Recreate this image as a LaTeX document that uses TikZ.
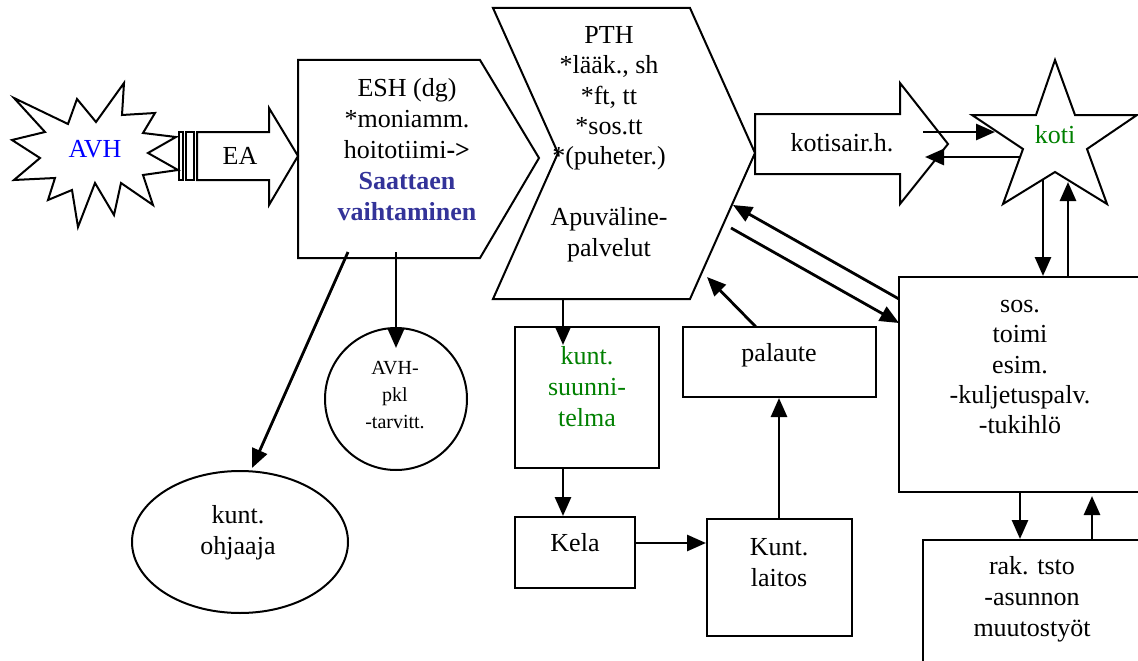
\documentclass[tikz,border=0pt]{standalone}
\usepackage{fontspec}
\setmainfont{Liberation Serif}
\usetikzlibrary{arrows.meta,positioning,shapes.geometric}
\definecolor{avhblue}{RGB}{0,0,255}
\definecolor{kotigreen}{RGB}{0,128,0}
\definecolor{saatblue}{RGB}{51,51,153}
\tikzset{
	shp/.style={draw, line width=2pt, line join=miter},
	box/.style={shp, inner sep=0pt},
	lbl/.style={align=center, inner sep=0pt, font=\fontsize{26}{31}\selectfont},
	arr/.style={line width=2.8pt, -{Triangle[length=19pt,width=16pt]}},
}
\begin{document}
\begin{tikzpicture}[x=1pt,y=-1pt]
\useasboundingbox (0,0) rectangle (1138,661);

% AVH burst
\draw[shp] (14,98) -- (68,124) -- (77,99) -- (96,122) -- (124,83) -- (122,115)
	-- (155,113) -- (143,133) -- (176,137) -- (148,153) -- (178,170) -- (143,175)
	-- (153,205) -- (121,183) -- (114,215) -- (95,183) -- (78,227) -- (72,190)
	-- (48,200) -- (55,178) -- (14,180) -- (40,158) -- (12,140) -- (45,132) -- cycle;
\node[lbl, text=avhblue] (avh) at (95,149) {AVH};

% EA arrow
\draw[shp] (179,132) rectangle (183,180);
\draw[shp] (186,132) rectangle (194,180);
\draw[shp] (197,132) -- (269,132) -- (269,108) -- (298,156) -- (269,205) -- (269,180) -- (197,180) -- cycle;
\node[lbl] (ea) at (240,156) {EA};

% ESH
\draw[shp] (298,60) -- (480,60) -- (539,158) -- (480,258) -- (298,258) -- cycle;
\node[lbl] (esh) at (407,150) {ESH (dg)\\*moniamm.\\hoitotiimi\textbf{->}\\
	\textcolor{saatblue}{\textbf{Saattaen}}\\\textcolor{saatblue}{\textbf{vaihtaminen}}};

% PTH
\draw[shp] (493,8) -- (690,8) -- (755,153) -- (690,299) -- (493,299) -- (558,153) -- cycle;
\node[lbl, font=\fontsize{26}{30.4}\selectfont] (pth) at (609,144)
	{PTH\\*lääk., sh\\*ft, tt\\*sos.tt\\*(puheter.)\\[30.4pt]Apuväline-\\palvelut};

% kotisairaanhoito
\draw[shp] (755,114) -- (900,114) -- (900,83) -- (948,144) -- (900,204) -- (900,174) -- (755,174) -- cycle;
\node[lbl] (kotis) at (842,143) {kotisair.h.};

% koti
\draw[shp] (1055,60) -- (1075,115) -- (1137,115) -- (1087,149) -- (1107,204) -- (1055,172)
	-- (1003,204) -- (1023,149) -- (972,115) -- (1036,115) -- cycle;
\node[lbl, text=kotigreen] (koti) at (1055,135) {koti};

% boxes
\node[box, minimum width=251pt, minimum height=215pt] (sos) at (1024.5,384.5) {};
\node[lbl, font=\fontsize{26}{30.2}\selectfont] (sost) at (1020,367) {sos.\\toimi\\esim.\\-kuljetuspalv.\\-tukihlö};
\node[box, minimum width=237pt, minimum height=140pt] (rak) at (1041.5,610) {};
\node[lbl] (rakt) at (1032,599) {rak. tsto\\-asunnon\\muutostyöt};
\node[box, minimum width=144pt, minimum height=141pt] (suun) at (587,397.5) {};
\node[lbl, text=kotigreen] (suunt) at (587,387) {kunt.\\suunni-\\telma};
\node[box, minimum width=120pt, minimum height=71pt] (kela) at (575,552.5) {};
\node[lbl] (kelat) at (575,543) {Kela};
\node[box, minimum width=145pt, minimum height=117pt] (laitos) at (779.5,577.5) {};
\node[lbl] (laitost) at (779,563) {Kunt.\\laitos};
\node[box, minimum width=193pt, minimum height=70pt] (pal) at (779.5,362) {};
\node[lbl] (palt) at (779,355) {palaute};
\node[box, circle, minimum size=142pt] (pkl) at (396,399) {};
\node[lbl, font=\fontsize{20}{27}\selectfont] (pklt) at (395,395) {AVH-\\pkl\\-tarvitt.};
\node[box, ellipse, minimum width=216pt, minimum height=142pt] (ohj) at (240,542) {};
\node[lbl] (ohjt) at (238,533) {kunt.\\ohjaaja};

% connector ends
\coordinate (esh-s1) at (348,252);
\coordinate (esh-s2) at (396,252);
\coordinate (ohj-n) at (252,468);
\coordinate (pkl-n) at (396,348);
\coordinate (pth-s) at (563,299);
\coordinate (suun-in) at (563,345);
\coordinate (pth-e1) at (733,205);
\coordinate (pth-e2) at (731,228);
\coordinate (pth-e3) at (707,277);
\coordinate (pal-n) at (756,327);
\coordinate (sos-w1) at (899,299);
\coordinate (sos-w2) at (899,323);
\coordinate (kotis-r1) at (923,132);
\coordinate (kotis-r2) at (925,157);
\coordinate (koti-w1) at (995,132);
\coordinate (koti-w2) at (1020,157);
\coordinate (koti-s1) at (1043,180);
\coordinate (koti-s2) at (1068,182);
\coordinate (sos-s2) at (1092,496);

% connectors
\draw[arr] (esh-s1) -- (ohj-n);
\draw[arr] (esh-s2) -- (pkl-n);
\draw[arr] (pth-s) -- (suun-in);
\draw[arr] (suun.south -| pth-s) -- (kela.north -| pth-s);
\draw[arr] (kela.east |- kelat) -- (laitos.west |- kelat);
\draw[arr] (laitos.north -| palt) -- (pal.south -| palt);
\draw[arr] (pal-n) -- (pth-e3);
\draw[arr] (sos-w1) -- (pth-e1);
\draw[arr] (pth-e2) -- (sos-w2);
\draw[arr] (kotis-r1) -- (koti-w1);
\draw[arr] (koti-w2) -- (kotis-r2);
\draw[arr] (koti-s1) -- (sos.north -| koti-s1);
\draw[arr] (sos.north -| koti-s2) -- (koti-s2);
\draw[arr] (sos.south -| sost) -- (rak.north -| sost);
\draw[arr] (rak.north -| sos-s2) -- (sos-s2);
\end{tikzpicture}
\end{document}
